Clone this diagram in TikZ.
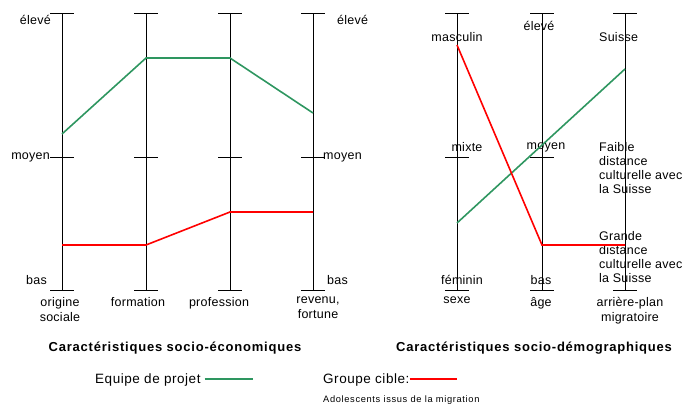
\documentclass[tikz,border=0pt]{standalone}
\usepackage{fontspec}
\setmainfont{Liberation Sans}
\usepackage{tikz}
\usetikzlibrary{calc}
\definecolor{projetgreen}{RGB}{46,150,96}

\begin{document}
\begin{tikzpicture}
      [x = 1pt, y = -1pt,
      axis/.style={line width = 0.8},
      tick/.style={line width = 0.8},
      equipe/.style={draw = projetgreen, line width = 1.6},
      cible/.style={draw = red, line width = 1.6},
      lab/.style={inner sep = 0pt,
         font = \fontsize{12.5}{15}\selectfont\addfontfeature{LetterSpace=2}},
      multi/.style={lab, align = center},
      bloc/.style={lab, align = left, anchor = north west,
         font = \fontsize{12.5}{14.2}\selectfont\addfontfeature{LetterSpace=2}},
      legende/.style={inner sep = 0pt, anchor = west,
         font = \fontsize{13.5}{15}\selectfont\addfontfeature{LetterSpace=4}},
      title/.style={inner sep = 0pt,
         font = \fontsize{13}{15}\selectfont\bfseries\addfontfeature{LetterSpace=6}}]

      \useasboundingbox (0, 0) rectangle (683, 407);

      % axes
      \foreach \x/\n in {62/a, 146/b, 230/c, 313/d, 457/e, 542/f, 625/g} {
         \coordinate (\n top) at (\x, 13);
         \coordinate (\n mid) at (\x, 157);
         \coordinate (\n bot) at (\x, 290);
         \draw[axis] (\n top) -- (\n bot);
         \draw[tick] ($(\n top)+(-12,0)$) -- ($(\n top)+(12,0)$);
         \draw[tick] ($(\n bot)+(-12,0)$) -- ($(\n bot)+(12,0)$);
      }
      \foreach \n in {a, b, c, d, e, f}
         \draw[tick] ($(\n mid)+(-12,0)$) -- ($(\n mid)+(12,0)$);

      % echelle gauche et droite
      \node[lab, anchor = east] (eleveA) at (51, 20) {élevé};
      \node[lab, anchor = east] (moyenA) at (50, 157) {moyen};
      \node[lab, anchor = east] (basA) at (47, 280) {bas};
      \node[lab, anchor = west] (eleveD) at (337, 20) {élevé};
      \node[lab, anchor = west] (moyenD) at (323, 157) {moyen};
      \node[lab, anchor = west] (basD) at (327, 280) {bas};

      \node[multi, anchor = north] (origine) at (60, 297) {origine\\sociale};
      \node[multi, anchor = north] (formation) at (138, 297) {formation};
      \node[multi, anchor = north] (profession) at (219, 297) {profession};
      \node[multi, anchor = north] (revenu) at (318, 297) {revenu,\\fortune};

      \node[lab] (masculin) at (457, 37) {masculin};
      \node[lab] (eleveF) at (539, 26) {élevé};
      \node[lab, anchor = west] (suisse) at (599, 37) {Suisse};
      \node[lab] (mixte) at (467, 147) {mixte};
      \node[lab] (moyenF) at (546, 147) {moyen};
      \node[bloc] (faible) at (599, 142)
         {Faible\\distance\\culturelle avec\\la Suisse};
      \node[bloc] (grande) at (599, 231)
         {Grande\\distance\\culturelle avec\\la Suisse};
      \node[lab] (feminin) at (462, 280) {féminin};
      \node[lab] (basF) at (541, 280) {bas};

      \node[multi, anchor = north] (sexe) at (457, 297) {sexe};
      \node[multi, anchor = north] (age) at (541, 297) {âge};
      \node[multi, anchor = north] (arriere) at (630, 297) {arrière-plan\\migratoire};

      \node[title] (titreEco) at (175, 348) {Caractéristiques socio-économiques};
      \node[title] (titreDemo) at (534, 348) {Caractéristiques socio-démographiques};

      % profils
      \coordinate (g1) at (62, 134);
      \coordinate (g2) at (146, 58);
      \coordinate (g3) at (230, 58);
      \coordinate (g4) at (313, 113);
      \coordinate (r1) at (62, 245);
      \coordinate (r2) at (146, 245);
      \coordinate (r3) at (230, 212);
      \coordinate (r4) at (313, 212);
      \draw[equipe] (g1) -- (g2) -- (g3) -- (g4);
      \draw[cible] (r1) -- (r2) -- (r3) -- (r4);

      \coordinate (g5) at (457, 223);
      \coordinate (g7) at (625, 69);
      \coordinate (r5) at (457, 45);
      \coordinate (r6) at (542, 245);
      \coordinate (r7) at (625, 245);
      \draw[equipe] (g5) -- (g7);
      \draw[cible] (r5) -- (r6) -- (r7);

      % legende
      \node[legende] (legEquipe) at (95, 380) {Equipe de projet};
      \coordinate (legEquipeEnd) at (253, 379);
      \draw[equipe] ($(legEquipe.east)+(4,-1)$) -- (legEquipeEnd);
      \node[legende] (legCible) at (323, 380) {Groupe cible:};
      \coordinate (legCibleEnd) at (457, 379);
      \draw[cible] ($(legCible.east)+(0,-1)$) -- (legCibleEnd);
      \node[inner sep = 0pt, anchor = west,
         font = \fontsize{9.3}{11}\selectfont\addfontfeature{LetterSpace=7}]
         (ado) at (323, 400) {Adolescents issus de la migration};

   \end{tikzpicture}
\end{document}
